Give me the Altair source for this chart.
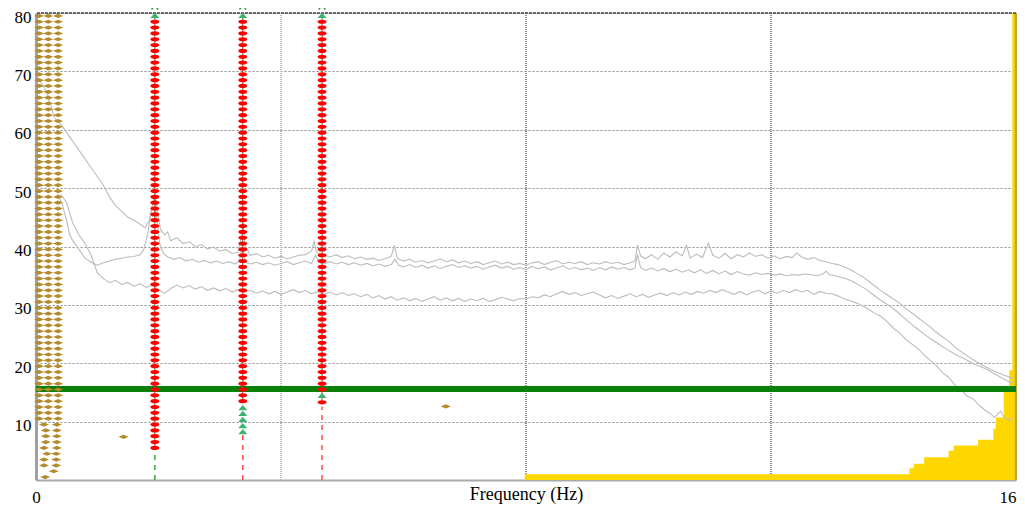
import altair as alt
import pandas as pd

# ---------------- data ----------------
# three spectrum curves: (frequency Hz, level)
curve_top = [
    (0.05, 68.5), (0.15, 67), (0.25, 64), (0.3, 62), (0.4, 61), (0.5, 59.5), (0.6, 58), (0.7, 56.5),
    (0.8, 55), (0.9, 53.5), (1.0, 52), (1.1, 50.5), (1.2, 48.5), (1.3, 47), (1.4, 46), (1.5, 45),
    (1.6, 44.5), (1.7, 43.8), (1.78, 43.2), (1.85, 44.5), (1.9, 47), (1.94, 49), (1.98, 46.5),
    (2.03, 43), (2.1, 42), (2.15, 42.5), (2.2, 41), (2.3, 41.5), (2.4, 40.5), (2.5, 40.8), (2.6, 40),
    (2.7, 40.3), (2.8, 39.6), (2.9, 39.9), (3.0, 39.2), (3.1, 39.5), (3.2, 38.8), (3.3, 39),
    (3.35, 41.5), (3.38, 44), (3.42, 40), (3.5, 38.5), (3.6, 38.8), (3.7, 38.2), (3.8, 38.5),
    (3.9, 38), (4.0, 38.3), (4.1, 37.9), (4.2, 38.2), (4.3, 38.5), (4.4, 38.6), (4.5, 39.2),
    (4.54, 41), (4.58, 39), (4.7, 38.5), (4.8, 38.2), (4.9, 38.6), (5.0, 38.1), (5.1, 38.4),
    (5.2, 37.9), (5.3, 38.2), (5.4, 37.8), (5.5, 38), (5.6, 37.6), (5.7, 37.9), (5.8, 38.3),
    (5.85, 40.2), (5.9, 38), (6.0, 37.5), (6.1, 37.8), (6.2, 37.3), (6.3, 37.6), (6.4, 37.2),
    (6.5, 37.5), (6.6, 37.9), (6.7, 37.4), (6.8, 37.7), (6.9, 37.2), (7.0, 37.5), (7.1, 37.1),
    (7.2, 37.4), (7.3, 36.9), (7.4, 37.2), (7.5, 37.5), (7.6, 37.0), (7.7, 37.3), (7.8, 36.9),
    (7.9, 37.1), (8.0, 36.8), (8.1, 37.2), (8.2, 37.4), (8.3, 36.9), (8.4, 37.3), (8.5, 37.6),
    (8.6, 37.0), (8.7, 37.3), (8.8, 37.1), (8.9, 37.4), (9.0, 36.9), (9.1, 37.2), (9.2, 37.0),
    (9.3, 37.4), (9.4, 37.1), (9.5, 37.3), (9.6, 36.9), (9.7, 37.2), (9.78, 37.5), (9.82, 40.3),
    (9.87, 38.4), (9.95, 37.9), (10.05, 38.6), (10.15, 37.8), (10.25, 38.9), (10.35, 38.2),
    (10.45, 39.1), (10.55, 38.4), (10.62, 40.2), (10.68, 38.0), (10.78, 38.7), (10.88, 38.1),
    (10.98, 40.6), (11.05, 38.5), (11.15, 38.0), (11.25, 38.8), (11.35, 37.9), (11.45, 38.6),
    (11.55, 38.2), (11.65, 38.9), (11.75, 38.3), (11.85, 38.6), (11.95, 38.0), (12.05, 38.4),
    (12.15, 37.9), (12.25, 38.3), (12.35, 38.1), (12.42, 38.9), (12.5, 38.2), (12.6, 37.8),
    (12.7, 38.1), (12.8, 37.6), (12.9, 37.4), (13.0, 37.1), (13.1, 36.9), (13.2, 36.5),
    (13.3, 36.0), (13.4, 35.4), (13.5, 34.8), (13.6, 34.0), (13.7, 33.2), (13.8, 32.4),
    (13.9, 31.7), (14.0, 31.0), (14.1, 30.3), (14.2, 29.4), (14.3, 28.6), (14.4, 27.8),
    (14.5, 27.0), (14.6, 26.2), (14.7, 25.3), (14.8, 24.5), (14.9, 23.8), (15.0, 22.8),
    (15.1, 22.0), (15.2, 21.3), (15.3, 20.6), (15.4, 20.0), (15.5, 19.4), (15.6, 18.9),
    (15.7, 18.4), (15.8, 18.0), (15.9, 17.6), (15.97, 17.3),
]

curve_mid = [
    (0.35, 49), (0.42, 47.5), (0.5, 44.5), (0.55, 42), (0.6, 41), (0.7, 39.5), (0.8, 38),
    (0.9, 37.3), (1.0, 36.8), (1.1, 37.2), (1.2, 37.5), (1.3, 37.8), (1.4, 38.0), (1.5, 38.2),
    (1.6, 38.3), (1.7, 38.6), (1.76, 39.5), (1.82, 42), (1.88, 46), (1.93, 48.5), (1.97, 45),
    (2.02, 40.5), (2.08, 38.8), (2.15, 38.2), (2.25, 37.8), (2.35, 38.1), (2.45, 37.5),
    (2.55, 37.8), (2.65, 37.3), (2.75, 37.6), (2.85, 37.2), (2.95, 37.5), (3.05, 37.1),
    (3.15, 37.4), (3.25, 37.0), (3.32, 37.5), (3.37, 40), (3.42, 37.3), (3.5, 37.0), (3.6, 37.3),
    (3.7, 36.9), (3.8, 37.2), (3.9, 36.8), (4.0, 37.1), (4.1, 37.4), (4.2, 36.9), (4.3, 37.2),
    (4.4, 37.5), (4.5, 37.1), (4.56, 38.5), (4.62, 37.3), (4.7, 37.0), (4.8, 37.4), (4.9, 37.0),
    (5.0, 37.3), (5.1, 36.9), (5.2, 37.2), (5.3, 36.8), (5.4, 37.1), (5.5, 36.7), (5.6, 37.0),
    (5.7, 36.6), (5.8, 36.9), (5.86, 37.8), (5.92, 36.8), (6.0, 36.5), (6.1, 36.9), (6.2, 36.4),
    (6.3, 36.8), (6.4, 36.3), (6.5, 36.7), (6.6, 36.2), (6.7, 36.6), (6.8, 36.9), (6.9, 36.4),
    (7.0, 36.7), (7.1, 36.3), (7.2, 36.6), (7.3, 36.1), (7.4, 36.5), (7.5, 36.8), (7.6, 36.3),
    (7.7, 36.6), (7.8, 36.1), (7.9, 36.4), (8.0, 36.0), (8.1, 36.6), (8.2, 36.2), (8.3, 36.5),
    (8.4, 36.0), (8.5, 36.3), (8.6, 36.7), (8.7, 36.1), (8.8, 36.4), (8.9, 36.0), (9.0, 36.3),
    (9.1, 35.9), (9.2, 36.4), (9.3, 36.0), (9.4, 36.5), (9.5, 36.1), (9.6, 36.4), (9.7, 36.0),
    (9.78, 36.3), (9.82, 38.6), (9.87, 36.4), (9.95, 35.9), (10.05, 36.3), (10.15, 35.8),
    (10.25, 36.2), (10.35, 35.7), (10.45, 36.1), (10.55, 35.6), (10.65, 36.0), (10.75, 35.5),
    (10.85, 36.0), (10.95, 35.4), (11.05, 35.9), (11.15, 35.3), (11.25, 35.8), (11.35, 35.2),
    (11.45, 35.7), (11.55, 35.3), (11.65, 35.1), (11.75, 35.5), (11.85, 35.2), (11.95, 35.4),
    (12.05, 35.1), (12.15, 35.3), (12.25, 35.0), (12.35, 35.2), (12.45, 35.1), (12.55, 35.3),
    (12.65, 35.2), (12.75, 35.0), (12.85, 35.3), (12.9, 35.8), (12.95, 35.2), (13.05, 35.0),
    (13.15, 34.7), (13.25, 34.4), (13.35, 33.9), (13.45, 33.3), (13.55, 32.7), (13.65, 31.9),
    (13.75, 31.1), (13.85, 30.4), (13.95, 29.7), (14.05, 28.9), (14.15, 28.0), (14.25, 27.1),
    (14.35, 26.2), (14.45, 25.4), (14.55, 24.6), (14.65, 23.9), (14.75, 23.2), (14.85, 22.5),
    (14.95, 21.9), (15.05, 21.3), (15.15, 20.8), (15.25, 20.2), (15.35, 19.7), (15.45, 19.3),
    (15.55, 18.8), (15.65, 18.2), (15.75, 17.6), (15.85, 17.0), (15.95, 16.6),
]

curve_low = [
    (0.4, 49), (0.5, 47.5), (0.6, 44), (0.7, 42), (0.8, 40.5), (0.9, 38.5), (0.95, 37),
    (1.0, 35.5), (1.1, 34.5), (1.2, 33.8), (1.3, 34.2), (1.4, 33.5), (1.5, 33.8), (1.6, 33.2),
    (1.7, 33.6), (1.8, 33.0), (1.9, 33.4), (2.0, 32.6), (2.1, 32.0), (2.2, 32.8), (2.3, 33.4),
    (2.4, 32.9), (2.5, 33.3), (2.6, 32.7), (2.7, 33.1), (2.8, 32.5), (2.9, 32.9), (3.0, 32.4),
    (3.1, 32.8), (3.2, 32.2), (3.3, 32.6), (3.4, 32.1), (3.5, 32.5), (3.6, 32.0), (3.7, 32.4),
    (3.8, 31.9), (3.9, 32.3), (4.0, 31.8), (4.1, 32.2), (4.2, 32.6), (4.3, 32.1), (4.4, 32.5),
    (4.5, 31.9), (4.6, 32.3), (4.7, 31.8), (4.8, 32.2), (4.9, 31.7), (5.0, 32.1), (5.1, 31.6),
    (5.2, 31.9), (5.3, 31.4), (5.4, 31.8), (5.5, 31.2), (5.6, 31.6), (5.7, 31.0), (5.8, 31.4),
    (5.9, 30.8), (6.0, 31.2), (6.1, 30.7), (6.2, 31.1), (6.3, 30.6), (6.4, 31.0), (6.5, 31.4),
    (6.6, 30.8), (6.7, 31.2), (6.8, 30.7), (6.9, 31.1), (7.0, 30.6), (7.1, 31.0), (7.2, 30.7),
    (7.3, 31.1), (7.4, 30.6), (7.5, 30.9), (7.6, 31.3), (7.7, 31.0), (7.8, 30.7), (7.9, 31.1),
    (8.0, 31.0), (8.1, 31.4), (8.2, 31.2), (8.3, 31.7), (8.4, 31.4), (8.5, 31.9), (8.6, 32.3),
    (8.7, 31.8), (8.8, 32.1), (8.9, 31.6), (9.0, 31.9), (9.1, 32.2), (9.2, 31.7), (9.3, 31.2),
    (9.4, 31.6), (9.5, 31.1), (9.6, 31.5), (9.7, 31.9), (9.8, 31.4), (9.9, 31.8), (10.0, 31.3),
    (10.1, 31.7), (10.2, 32.0), (10.3, 31.6), (10.4, 32.1), (10.5, 31.7), (10.6, 32.2),
    (10.7, 31.8), (10.8, 32.3), (10.9, 32.0), (11.0, 32.5), (11.1, 32.1), (11.2, 32.6),
    (11.3, 32.2), (11.4, 31.8), (11.5, 32.3), (11.6, 31.7), (11.7, 32.2), (11.8, 32.5),
    (11.9, 31.9), (12.0, 32.4), (12.1, 32.0), (12.2, 32.5), (12.3, 32.1), (12.4, 32.6),
    (12.5, 32.2), (12.6, 32.5), (12.7, 31.8), (12.8, 32.3), (12.9, 32.0), (13.0, 31.9),
    (13.1, 31.5), (13.2, 31.0), (13.3, 30.7), (13.4, 30.3), (13.5, 29.8), (13.6, 29.2),
    (13.7, 28.5), (13.8, 28.0), (13.9, 27.1), (14.0, 26.0), (14.1, 25.2), (14.2, 24.1),
    (14.3, 23.3), (14.4, 22.5), (14.5, 21.4), (14.6, 20.5), (14.7, 19.6), (14.8, 18.4),
    (14.9, 17.6), (15.0, 16.3), (15.1, 15.5), (15.2, 14.4), (15.3, 13.9), (15.4, 12.8),
    (15.5, 11.9), (15.6, 11.2), (15.65, 10.7), (15.7, 11.3), (15.75, 11.8), (15.8, 10.8),
    (15.88, 10.2), (15.95, 10.6),
]

# yellow stepped area (step-after)
area_f = [7.98, 14.26, 14.33, 14.5, 14.9, 14.98, 15.38, 15.63, 15.67, 15.8, 15.89, 15.94, 16.0]
area_v = [1.0, 2.0, 2.8, 3.9, 5.0, 5.9, 6.9, 8.8, 10.7, 15.4, 18.8, 80.0, 80.0]

# horizontal threshold line
threshold = 15.6

# vertical grid lines
vgrid_f = [4, 8, 12]
vgrid_col = ["#bdbdbd", "#8e8e8e", "#8e8e8e"]

# brown diamond ladder near 0 Hz
diamond_cols_upper = [0.05, 0.2, 0.36]
diamond_rows_upper = [r + 0.5 for r in range(10, 80)]
diamond_lower = [
    (0.13, 9.5), (0.34, 9.5), (0.16, 8.5), (0.34, 8.5), (0.16, 7.5), (0.34, 7.5),
    (0.16, 6.5), (0.34, 6.5), (0.13, 5.5), (0.34, 5.5), (0.18, 4.5), (0.33, 4.5),
    (0.13, 3.5), (0.33, 3.5), (0.13, 2.5), (0.33, 2.5), (0.29, 1.5), (0.15, 0.5),
    (1.43, 7.4), (6.69, 12.6),
]

# red peak ladders
peak_f = [1.94, 3.376, 4.67]
peak_red_low = [5.5, 13.5, 15.5]
peak_red_extra = [(4.67, 13.3)]
peak_green = [(3.376, 12.4), (3.376, 11.4), (3.376, 10.4), (3.376, 9.3), (3.376, 8.3),
              (4.67, 14.5), (1.94, 79.6), (3.376, 79.6), (4.67, 79.6)]
peak_cap = 80.9
stem_top = [5.0, 8.0, 12.6]
stem_col = ["#35a835", "#ff4a4a", "#ff4a4a"]
core_low = [5.5, 13.5, 13.3]
core_high = 79.6

# ---------------- tables ----------------
def cdf(pairs, name):
    return pd.DataFrame({"f": [p[0] for p in pairs], "v": [p[1] for p in pairs], "curve": name})

curves = pd.concat([cdf(curve_top, "a"), cdf(curve_mid, "b"), cdf(curve_low, "c")])
area = pd.DataFrame({"f": area_f, "v": area_v})
vgrid = pd.DataFrame({"f": vgrid_f, "col": vgrid_col})
diamonds = pd.concat([
    pd.DataFrame([(c, r) for r in diamond_rows_upper for c in diamond_cols_upper], columns=["f", "v"]),
    pd.DataFrame(diamond_lower, columns=["f", "v"]),
])
reds = []
for fx, lo in zip(peak_f, peak_red_low):
    reds += [(fx, r + 0.5) for r in range(int(lo), 79)]
reds += peak_red_extra
reds = pd.DataFrame(reds, columns=["f", "v"])
greens = pd.DataFrame(peak_green, columns=["f", "v"])
caps = pd.DataFrame({"f": peak_f, "v": [peak_cap] * 3})
stems = pd.DataFrame({"f": peak_f, "v": [0, 0, 0], "v2": stem_top, "col": stem_col})
cores = pd.DataFrame({"f": peak_f, "v": core_low, "v2": [core_high] * 3})

# ---------------- scales & axes ----------------
FONT = "Liberation Serif"
xscale = alt.Scale(domain=[0, 16], nice=False, zero=False)
yscale = alt.Scale(domain=[0, 80], nice=False, zero=True)
xaxis = alt.Axis(values=[0, 16], title="Frequency (Hz)", grid=False, ticks=False, tickSize=0,
                 domainColor="#a9a9a9", domainWidth=2, labelFont=FONT, labelFontSize=17,
                 labelColor="black", labelPadding=17, labelBaseline="middle",
                 labelAlign={"condition": {"test": "datum.value >= 16", "value": "right"},
                             "value": "center"},
                 labelFlush=False,
                 titleFont=FONT, titleFontSize=18, titleFontWeight="normal", titleColor="black",
                 titleY=14, titleBaseline="middle")
yaxis = alt.Axis(values=[10, 20, 30, 40, 50, 60, 70, 80], title=None, grid=True,
                 gridColor="#8c8c8c", gridDash=[2, 2], gridWidth=1, ticks=False, tickSize=0,
                 domainColor="#a0a0a0", domainWidth=3, labelFont=FONT, labelFontSize=17,
                 labelColor="black", labelPadding=5, labelBaseline="middle", labelOffset=4)

def X(field="f"):
    return alt.X(f"{field}:Q", scale=xscale, axis=xaxis)

def Y(field="v"):
    return alt.Y(f"{field}:Q", scale=yscale, axis=yaxis)

diamond_shape = "M-1,0L0,-0.42L1,0L0,0.42Z"
ellipse_shape = "M-1,0A1,0.47,0,1,0,1,0A1,0.47,0,1,0,-1,0Z"
tri_shape = "M-1,0.58L0,-0.58L1,0.58Z"
arch_shape = "M-0.8,0.45Q0,-1.0,0.8,0.45"

vgrid_layer = alt.Chart(vgrid).mark_rule(strokeWidth=2, strokeDash=[1, 1]).encode(
    x=X(), color=alt.Color("col:N", scale=None))
area_layer = alt.Chart(area).mark_area(interpolate="step-after", color="#ffd700", opacity=1).encode(x=X(), y=Y())
right_border = alt.Chart(pd.DataFrame({"f": [16]})).mark_rule(color="#bca53a", strokeWidth=2.5).encode(x=X())
line_layer = alt.Chart(curves).mark_line(color="#bcbcbc", strokeWidth=1.1).encode(
    x=X(), y=Y(), detail="curve:N")
green_line = alt.Chart(pd.DataFrame({"v": [threshold]})).mark_rule(color="#0a7f0a", strokeWidth=6).encode(y=Y())
top_border = alt.Chart(pd.DataFrame({"v": [80]})).mark_rule(color="#444444", strokeWidth=1.5,
                                                          strokeDash=[3, 1]).encode(y=Y())
stem_layer = alt.Chart(stems).mark_rule(strokeWidth=1.5, strokeDash=[5, 5]).encode(
    x=X(), y=Y(), y2="v2:Q", color=alt.Color("col:N", scale=None))
core_layer = alt.Chart(cores).mark_rule(strokeWidth=1, color="#56702a").encode(x=X(), y=Y(), y2="v2:Q")
diamond_layer = alt.Chart(diamonds).mark_point(shape=diamond_shape, filled=True, size=100,
                                               color="#b38b2d", opacity=1).encode(x=X(), y=Y())
red_layer = alt.Chart(reds).mark_point(shape=ellipse_shape, filled=True, size=81,
                                       color="#ff0000", opacity=1).encode(x=X(), y=Y())
green_layer = alt.Chart(greens).mark_point(shape=tri_shape, filled=True, size=81,
                                           color="#3cb371", opacity=1).encode(x=X(), y=Y())
cap_layer = alt.Chart(caps).mark_point(shape=arch_shape, filled=False, size=64, strokeWidth=1.4,
                                       color="#2e8b3e", opacity=1).encode(x=X(), y=Y())

chart = alt.layer(
    vgrid_layer, area_layer, right_border, line_layer, green_line, top_border,
    stem_layer, core_layer, diamond_layer, red_layer, green_layer, cap_layer,
).properties(
    width=980, height=467,
    autosize=alt.AutoSizeParams(type="none"),
    padding={"left": 28, "top": 5, "right": 1, "bottom": 27},
).configure_view(fill="#f9fcfc", stroke=None).configure(background="white")

chart.save("out.html", embed_options={"renderer": "svg", "actions": False})
